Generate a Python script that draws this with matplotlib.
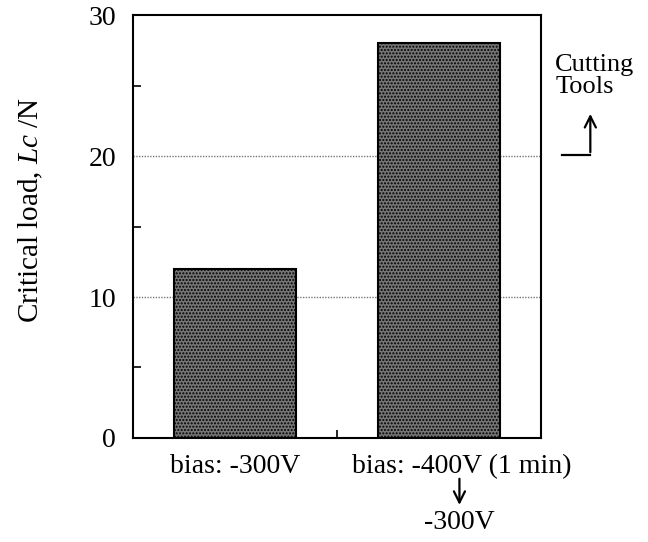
import numpy as np
import matplotlib
matplotlib.use("Agg")
import matplotlib.pyplot as plt

plt.rcParams['font.family'] = ['Liberation Serif', 'DejaVu Serif']
plt.rcParams['mathtext.fontset'] = 'custom'
plt.rcParams['mathtext.it'] = 'Liberation Serif:italic'
plt.rcParams['mathtext.rm'] = 'Liberation Serif'
plt.rcParams['hatch.color'] = '#2e2e2e'

categories = ["bias: -300V", "bias: -400V (1 min)"]
loads = [12, 28]
yticks = [0, 10, 20, 30]

fig = plt.figure(figsize=(6.48, 5.42), dpi=100)
ax = fig.add_axes([0.205, 0.192, 0.63, 0.78])

x = np.arange(len(categories))
ax.bar(x, loads, width=0.6, color='#767676', edgecolor='black',
       linewidth=1.5, hatch='.....', zorder=3)

for v in [10, 20]:
    ax.axhline(v, color='#777777', linestyle=(0, (1, 1)), linewidth=1.0, zorder=1)

ax.set_xlim(-0.5, 1.5)
ax.set_ylim(0, 30)
ax.set_yticks(yticks)
ax.set_yticks([5, 15, 25], minor=True)
ax.tick_params(axis='y', which='major', direction='in', length=0, labelsize=20, pad=12)
ax.tick_params(axis='y', which='minor', direction='in', length=6, width=1.2)
ax.set_xticks([0.5])
ax.set_xticklabels([])
ax.tick_params(axis='x', direction='in', length=6, width=1.2)
for s in ax.spines.values():
    s.set_linewidth(1.5)

# category labels
ax.text(0, -0.068, categories[0], transform=ax.get_xaxis_transform(),
        ha='center', va='center', fontsize=20)
ax.text(1.113, -0.068, categories[1], transform=ax.get_xaxis_transform(),
        ha='center', va='center', fontsize=20)
ax.annotate('', xy=(1.1, -0.165), xytext=(1.1, -0.09),
            xycoords=ax.get_xaxis_transform(),
            arrowprops=dict(arrowstyle='->', color='black', lw=1.6,
                            mutation_scale=20))
ax.text(1.1, -0.2, '-300V', transform=ax.get_xaxis_transform(),
        ha='center', va='center', fontsize=20)

ax.set_ylabel('Critical load, $\\mathit{Lc}$ /N', fontsize=21)
ax.yaxis.set_label_coords(-0.215, 0.54)

# cutting tools marker
fig.text(0.857, 0.86, 'Cutting\nTools', ha='left', va='center',
         fontsize=19, linespacing=1.0)
fig.add_artist(plt.Line2D([0.868, 0.911], [0.714, 0.714], color='black',
                          lw=1.6, transform=fig.transFigure))
fig.add_artist(matplotlib.patches.FancyArrowPatch(
    (0.911, 0.714), (0.911, 0.795), transform=fig.transFigure,
    arrowstyle='->', mutation_scale=20, lw=1.6, color='black'))

fig.savefig('out.png', dpi=100)
